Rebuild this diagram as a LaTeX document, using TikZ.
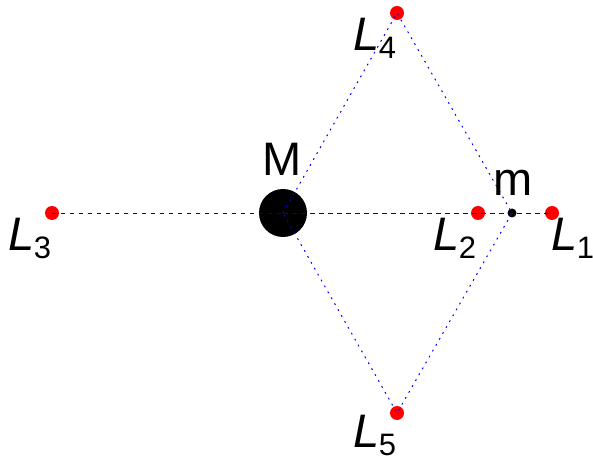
\documentclass[tikz,border=0pt]{standalone}
\usepackage{fontspec}
\setmainfont{Liberation Sans}
\newcommand\lsubs[1]{\kern-1pt\raisebox{-8pt}{\fontsize{31}{36}\selectfont #1}}
\begin{document}
\begin{tikzpicture}[x=1pt,y=1pt,
  reddot/.style={circle,fill=red,inner sep=0pt,minimum size=14pt},
  bigmass/.style={circle,fill=black,inner sep=0pt,minimum size=48pt},
  smallmass/.style={circle,fill=black,inner sep=0pt,minimum size=9pt},
  lbl/.style={inner sep=0pt,font=\fontsize{47}{52}\selectfont},
  axisline/.style={blue!70!black,line width=0.9pt,dash pattern=on 3.5pt off 5.5pt},
  triline/.style={blue,line width=1pt,dash pattern=on 1.8pt off 5pt}]
\useasboundingbox (0,0) rectangle (593,463);
\node[bigmass] (M) at (283,250) {};
\node[smallmass] (m) at (512,250) {};
\node[reddot] (L1) at (552,250) {};
\node[reddot] (L2) at (478,250) {};
\node[reddot] (L3) at (52,250) {};
\node[reddot] (L4) at (397,450) {};
\node[reddot] (L5) at (397,50) {};
\draw[axisline] (L3.center) -- (M.center);
\draw[axisline,dash pattern=on 5pt off 4pt] (M.center) -- (L1.center);
\draw[triline] (M.center) -- (L4.center) -- (m.center) -- (L5.center) -- cycle;
\node[lbl] (tM) at (282,304) {M};
\node[lbl] (tm) at (513,280) {m};
\node[lbl] (t1) at (573,225) {\textit{L}\lsubs{1}};
\node[lbl] (t2) at (455,225) {\textit{L}\lsubs{2}};
\node[lbl] (t3) at (30,225) {\textit{L}\lsubs{3}};
\node[lbl] (t4) at (375,425) {\textit{L}\lsubs{4}};
\node[lbl] (t5) at (375,28) {\textit{L}\lsubs{5}};
\end{tikzpicture}
\end{document}
